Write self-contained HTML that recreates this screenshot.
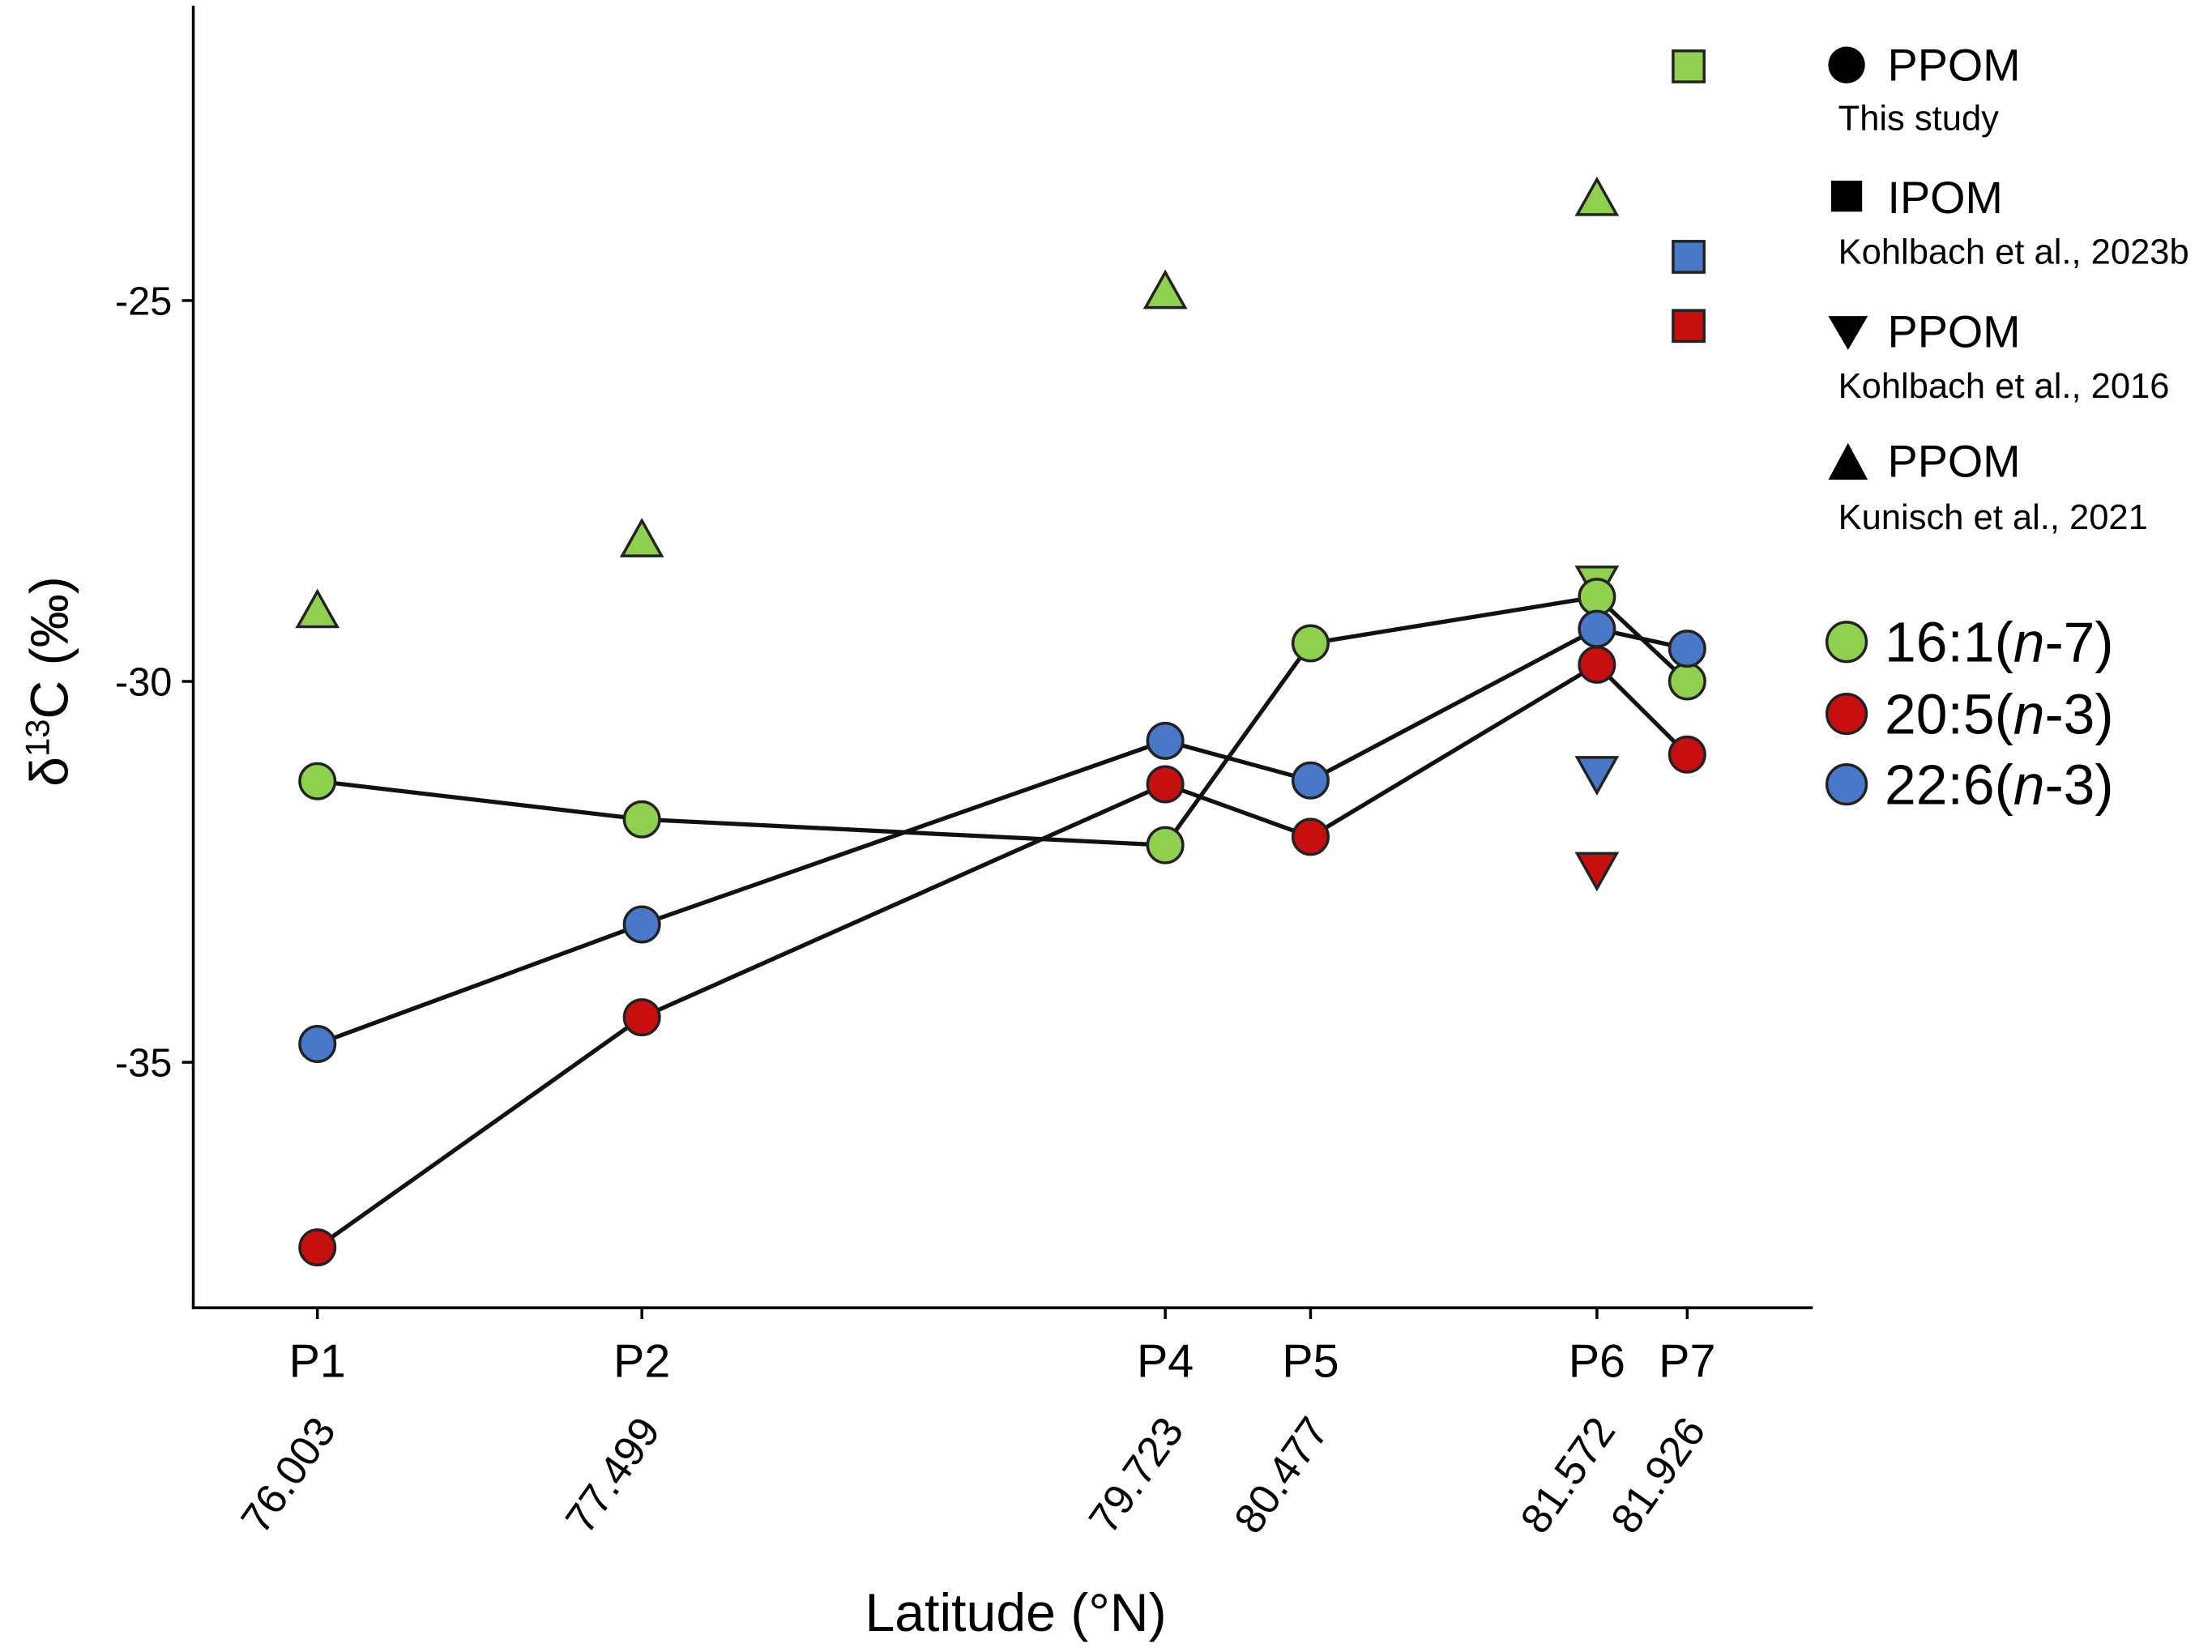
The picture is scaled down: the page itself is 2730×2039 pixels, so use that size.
<!DOCTYPE html>
<html><head><meta charset="utf-8"><style>
html,body{margin:0;padding:0;background:#fff}
svg{display:block;font-family:"Liberation Sans",Arial,sans-serif}
</style></head><body>
<svg id="chart" width="2730" height="2039" viewBox="0 0 1568 1171" xmlns="http://www.w3.org/2000/svg">
<g id="axes"></g>
<g id="marks"></g>
<g id="legend">
  <rect x="1186" y="36" width="22" height="22" fill="#8fd14f" stroke="#222" stroke-width="2"/>
  <rect x="1186" y="171" width="22" height="22" fill="#4a78c8" stroke="#222" stroke-width="2"/>
  <rect x="1186" y="220" width="22" height="22" fill="#c80f0f" stroke="#222" stroke-width="2"/>
  <circle cx="1309" cy="46" r="13" fill="#000"/>
  <text x="1338" y="57" font-size="32">PPOM</text>
  <text x="1303" y="92" font-size="25">This study</text>
  <rect x="1298" y="128" width="22" height="22" fill="#000"/>
  <text x="1338" y="151" font-size="32">IPOM</text>
  <text x="1303" y="187" font-size="25">Kohlbach et al., 2023b</text>
  <path d="M1296,224 L1324,224 L1310,248 Z" fill="#000"/>
  <text x="1338" y="246" font-size="32">PPOM</text>
  <text x="1303" y="282" font-size="25">Kohlbach et al., 2016</text>
  <path d="M1296,340 L1324,340 L1310,314 Z" fill="#000"/>
  <text x="1338" y="338" font-size="32">PPOM</text>
  <text x="1303" y="375" font-size="25">Kunisch et al., 2021</text>
  <circle cx="1309" cy="455" r="14" fill="#8fd14f" stroke="#222" stroke-width="2"/>
  <text x="1336" y="469" font-size="40">16:1(<tspan font-style="italic">n</tspan>-7)</text>
  <circle cx="1309" cy="506" r="14" fill="#c80f0f" stroke="#222" stroke-width="2"/>
  <text x="1336" y="520" font-size="40">20:5(<tspan font-style="italic">n</tspan>-3)</text>
  <circle cx="1309" cy="556" r="14" fill="#4a78c8" stroke="#222" stroke-width="2"/>
  <text x="1336" y="570" font-size="40">22:6(<tspan font-style="italic">n</tspan>-3)</text>
</g>
</svg>
<script>
const stations = ["P1","P2","P4","P5","P6","P7"];
const latitudes = [76.003, 77.499, 79.723, 80.477, 81.572, 81.926];
const latLabels = ["76.003","77.499","79.723","80.477","81.572","81.926"];
const fa161 = [-31.31, -31.81, -32.15, -29.5, -28.89, -30.0];
const fa205 = [-37.43, -34.41, -31.35, -32.04, -29.78, -30.96];
const fa226 = [-34.76, -33.19, -30.78, -31.3, -29.31, -29.57];
const kunischStations = [0, 1, 2, 4];
const kunischPPOM = [-29.06, -28.13, -24.87, -23.65];
const kohlbach2016Colors = ["green","blue","red"];
const kohlbach2016PPOM = [-28.72, -31.22, -32.48];
const yTicks = [-25, -30, -35];

const NS = "http://www.w3.org/2000/svg";
const colors = {green:"#8fd14f", red:"#c80f0f", blue:"#4a78c8"};
function xScale(i){
  const px = [225, 455, 826, 929, 1132, 1196];
  return px[i];
}
function yScale(v){ return 483 - (v + 30) * 54; }
function mk(tag, attrs, parent){
  const e = document.createElementNS(NS, tag);
  for (const k in attrs) e.setAttribute(k, attrs[k]);
  parent.appendChild(e); return e;
}
const axes = document.getElementById("axes");
const marks = document.getElementById("marks");

let el = mk("line",{x1:137,y1:4,x2:137,y2:927,stroke:"#000","stroke-width":2},axes);
 
el = mk("line",{x1:136,y1:927,x2:1285,y2:927,stroke:"#000","stroke-width":2},axes);
 

yTicks.forEach(t=>{
  const y = yScale(t);
  let tk = mk("line",{x1:129,y1:y,x2:137,y2:y,stroke:"#000","stroke-width":2},axes);
   
  let tx = mk("text",{x:122,y:y+10,"text-anchor":"end","font-size":28},axes);
  tx.textContent = String(t);
   
});
stations.forEach((s,i)=>{
  const x = xScale(i);
  let tk = mk("line",{x1:x,y1:927,x2:x,y2:935,stroke:"#000","stroke-width":2},axes);
   
  let tx = mk("text",{x:x,y:976,"text-anchor":"middle","font-size":33},axes);
  tx.textContent = s;
   
  let lt = mk("text",{x:0,y:0,"text-anchor":"end","font-size":30,transform:`translate(${x+14},1014) rotate(-55)`},axes);
  lt.textContent = latLabels[i];
   
});
el = mk("text",{x:720,y:1156,"text-anchor":"middle","font-size":38},axes);
el.textContent = "Latitude (°N)";
 
el = mk("text",{x:0,y:0,"text-anchor":"middle","font-size":38,transform:"translate(48,483) rotate(-90)"},axes);
el.innerHTML = 'δ<tspan baseline-shift="super" font-size="24">13</tspan>C (‰)';
 

function series(vals, color, name){
  const pts = vals.map((v,i)=>xScale(i)+","+yScale(v)).join(" ");
  let pl = mk("polyline",{points:pts,fill:"none",stroke:"#111","stroke-width":3},marks);
   
  return ()=>vals.forEach((v,i)=>{
    let c = mk("circle",{cx:xScale(i),cy:yScale(v),r:12.5,fill:colors[color],stroke:"#222","stroke-width":2},marks);
     
  });
}
const d1 = series(fa161,"green","fa-16-1");
const d2 = series(fa205,"red","fa-20-5");
const d3 = series(fa226,"blue","fa-22-6");
kunischStations.forEach((si,k)=>{
  const x = xScale(si), y = yScale(kunischPPOM[k]);
  let t = mk("path",{d:`M${x-14},${y+12} L${x+14},${y+12} L${x},${y-13} Z`,fill:colors.green,stroke:"#222","stroke-width":2},marks);
   
});
kohlbach2016PPOM.forEach((v,k)=>{
  const x = xScale(4), y = yScale(v);
  let t = mk("path",{d:`M${x-14},${y-12} L${x+14},${y-12} L${x},${y+13} Z`,fill:colors[kohlbach2016Colors[k]],stroke:"#222","stroke-width":2},marks);
   
});
d1(); d2(); d3();
</script>
</body></html>
